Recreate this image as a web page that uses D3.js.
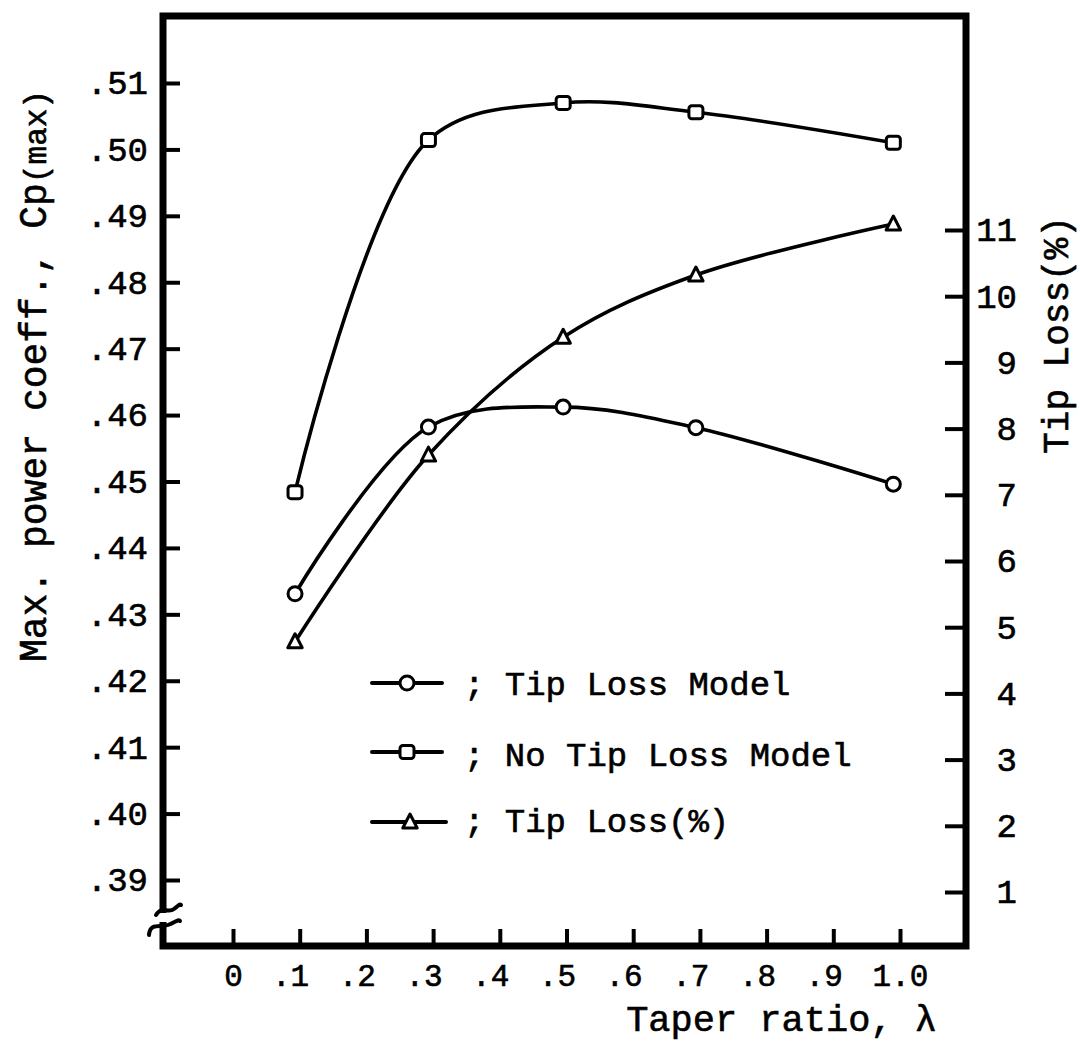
<!DOCTYPE html>
<html>
<head>
<meta charset="utf-8">
<script src="https://cdn.jsdelivr.net/npm/d3@7"></script>
<style>
  html, body { margin: 0; padding: 0; background: #fff; }
  svg { display: block; }
  text { font-family: "Liberation Mono", "DejaVu Sans Mono", monospace; fill: #000; stroke: #000; stroke-width: 0.6px; }
</style>
</head>
<body>
<svg id="chart" width="1080" height="1044"></svg>
<script>
// ---- data ----
const taper = [0.093, 0.293, 0.495, 0.694, 0.99];
const cpTipLoss = [0.4331, 0.4582, 0.4612, 0.4581, 0.4496];
const cpNoTipLoss = [0.4484, 0.5014, 0.5070, 0.5056, 0.5010];
const tipLossPct = [4.78, 7.60, 9.38, 10.32, 11.09];

const xTicks = [0, 0.1, 0.2, 0.3, 0.4, 0.5, 0.6, 0.7, 0.8, 0.9, 1.0];
const xTickLabels = ["0", ".1", ".2", ".3", ".4", ".5", ".6", ".7", ".8", ".9", "1.0"];
const yLeftTicks = [0.39, 0.40, 0.41, 0.42, 0.43, 0.44, 0.45, 0.46, 0.47, 0.48, 0.49, 0.50, 0.51];
const yRightTicks = [1, 2, 3, 4, 5, 6, 7, 8, 9, 10, 11];

const legendLabels = ["; Tip Loss Model", "; No Tip Loss Model", "; Tip Loss(%)"];

// ---- layout ----
const frame = { left: 163, right: 966, top: 16, bottom: 946 };
const svg = d3.select("#chart");

const x = d3.scaleLinear().domain([0, 1]).range([233, 900]);
const yL = d3.scaleLinear().domain([0.39, 0.51]).range([880, 83]);
const yR = d3.scaleLinear().domain([1, 11]).range([892, 230]);

// ---- frame ----
const fw = 7;
svg.append("path")
  .attr("d", `M${frame.left},913 L${frame.left},${frame.top} L${frame.right},${frame.top} L${frame.right},${frame.bottom} L${frame.left},${frame.bottom} L${frame.left},922`)
  .attr("fill", "none").attr("stroke", "#000").attr("stroke-width", fw)
  .attr("stroke-linejoin", "miter");

// axis break squiggles
svg.append("path")
  .attr("d", "M156,915 C162,905 168,914 174,909 S180,904 181,905")
  .attr("fill", "none").attr("stroke", "#000").attr("stroke-width", 4).attr("stroke-linecap", "round");
svg.append("path")
  .attr("d", "M149,935 C150,922 160,928 168,925 S178,919 180,921")
  .attr("fill", "none").attr("stroke", "#000").attr("stroke-width", 4).attr("stroke-linecap", "round");

// ---- axes ----
const fmtLeft = d => d3.format(".2f")(d).replace(/^0/, "");

const gL = svg.append("g").attr("transform", `translate(${frame.left},0)`)
  .call(d3.axisLeft(yL).tickValues(yLeftTicks).tickFormat(fmtLeft)
    .tickSizeInner(-17).tickSizeOuter(0).tickPadding(15));
gL.select(".domain").remove();
gL.selectAll(".tick line").attr("stroke", "#000").attr("stroke-width", 4);
gL.selectAll(".tick text").attr("font-size", 34).attr("font-family", "Liberation Mono");

const gB = svg.append("g").attr("transform", `translate(0,${frame.bottom})`)
  .call(d3.axisBottom(x).tickValues(xTicks).tickFormat((d, i) => xTickLabels[i])
    .tickSizeInner(-17).tickSizeOuter(0).tickPadding(18));
gB.select(".domain").remove();
gB.selectAll(".tick line").attr("stroke", "#000").attr("stroke-width", 4);
gB.selectAll(".tick text").attr("font-size", 31).attr("font-family", "Liberation Mono")
  .each(function(d, i) {
    const lab = xTickLabels[i];
    if (lab.startsWith(".")) {
      d3.select(this).attr("text-anchor", "end").attr("x", 9);
    }
  });

const gR = svg.append("g").attr("transform", `translate(${frame.right},0)`)
  .call(d3.axisRight(yR).tickValues(yRightTicks).tickFormat(d3.format("d"))
    .tickSizeInner(-21).tickSizeOuter(0).tickPadding(10));
gR.select(".domain").remove();
gR.selectAll(".tick line").attr("stroke", "#000").attr("stroke-width", 4);
gR.selectAll(".tick text").attr("font-size", 34).attr("font-family", "Liberation Mono")
  .attr("text-anchor", "end").attr("x", 51);

// ---- axis titles ----
const leftTitle = svg.append("text")
  .attr("transform", "translate(46,376) rotate(-90)")
  .attr("text-anchor", "middle").attr("font-size", 38);
leftTitle.append("tspan").text("Max. power coeff., Cp");
leftTitle.append("tspan").attr("font-size", 31).text("(max)");

svg.append("text")
  .attr("transform", "translate(1068,335) rotate(-90)")
  .attr("text-anchor", "middle").attr("font-size", 36)
  .text("Tip Loss(%)");

svg.append("text")
  .attr("x", 937).attr("y", 1031)
  .attr("text-anchor", "end").attr("font-size", 37)
  .text("Taper ratio, \u03bb");

// ---- markers ----
function drawMarker(g, type, cx, cy) {
  if (type === "circle") {
    g.append("circle").attr("cx", cx).attr("cy", cy).attr("r", 7)
      .attr("fill", "#fff").attr("stroke", "#000").attr("stroke-width", 3);
  } else if (type === "square") {
    g.append("rect").attr("x", cx - 7).attr("y", cy - 6.5).attr("width", 14).attr("height", 13)
      .attr("rx", 3).attr("fill", "#fff").attr("stroke", "#000").attr("stroke-width", 3);
  } else {
    const s = 8;
    g.append("path")
      .attr("d", `M${cx},${cy - s} L${cx + s * 0.9},${cy + s * 0.75} L${cx - s * 0.9},${cy + s * 0.75} Z`)
      .attr("fill", "#fff").attr("stroke", "#000").attr("stroke-width", 3).attr("stroke-linejoin", "round");
  }
}

const series = [
  { vals: cpTipLoss, y: yL, marker: "circle" },
  { vals: cpNoTipLoss, y: yL, marker: "square" },
  { vals: tipLossPct, y: yR, marker: "triangle" }
];

const gLines = svg.append("g");
const gMarks = svg.append("g");
series.forEach(s => {
  const pts = s.vals.map((v, i) => [x(taper[i]), s.y(v)]);
  gLines.append("path")
    .attr("d", d3.line().curve(d3.curveCatmullRom.alpha(0.5))(pts))
    .attr("fill", "none").attr("stroke", "#000").attr("stroke-width", 3.6)
    .attr("stroke-linecap", "round");
  pts.forEach(p => drawMarker(gMarks, s.marker, p[0], p[1]));
});

// ---- legend ----
const legendRowsY = [683, 752, 822];
const legendTextY = [695, 766, 832];
const legendMarkers = ["circle", "square", "triangle"];
const gLeg = svg.append("g");
legendLabels.forEach((lab, i) => {
  const ly = legendRowsY[i];
  gLeg.append("line").attr("x1", 372).attr("x2", i === 2 ? 446 : 442)
    .attr("y1", ly).attr("y2", ly)
    .attr("stroke", "#000").attr("stroke-width", 4).attr("stroke-linecap", "round");
  drawMarker(gLeg, legendMarkers[i], i === 2 ? 410 : 407, ly);
  gLeg.append("text").attr("x", 464).attr("y", legendTextY[i])
    .attr("font-size", 34).text(lab);
});
</script>
</body>
</html>
